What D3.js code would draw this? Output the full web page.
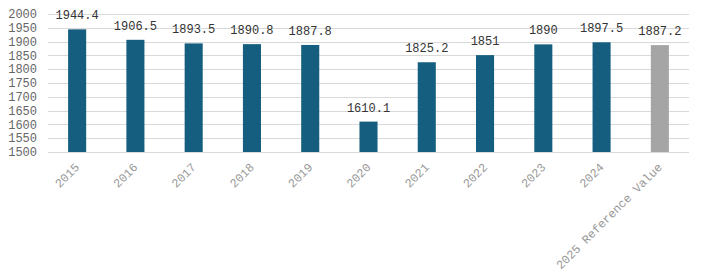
<!DOCTYPE html>
<html lang="en">
<meta charset="UTF-8">
<script src="https://d3js.org/d3.v7.min.js"></script>
<style>
  body { margin: 0; background: #fff; }
  text { font-family: "Courier New", Courier, "Nimbus Mono PS", "Nimbus Mono L", FreeMono, "Liberation Mono", monospace; }
</style>
<body>
<div id="chart"></div>
<script>
// data
var categories = ["2015", "2016", "2017", "2018", "2019", "2020", "2021", "2022", "2023", "2024", "2025 Reference Value"];
var values = [1944.4, 1906.5, 1893.5, 1890.8, 1887.8, 1610.1, 1825.2, 1851, 1890, 1897.5, 1887.2];
var yTicks = [1500, 1550, 1600, 1650, 1700, 1750, 1800, 1850, 1900, 1950, 2000];

var width = 704, height = 279;
var margin = {top: 14, right: 15, bottom: 127, left: 48};

var svg = d3.select("#chart").append("svg")
    .attr("width", width)
    .attr("height", height);

var x = d3.scaleBand()
    .domain(categories)
    .range([margin.left, width - margin.right])
    .paddingInner(0.69)
    .paddingOuter(0.345);

var y = d3.scaleLinear()
    .domain([1500, 2000])
    .range([height - margin.bottom, margin.top]);

// gridlines
svg.append("g")
  .selectAll("line")
  .data(yTicks)
  .join("line")
    .attr("x1", margin.left)
    .attr("x2", width - margin.right)
    .attr("y1", function(d) { return Math.round(y(d)) + 0.5; })
    .attr("y2", function(d) { return Math.round(y(d)) + 0.5; })
    .attr("stroke", "#d9d9d9")
    .attr("stroke-width", 1);

// y labels
svg.append("g")
  .selectAll("text")
  .data(yTicks)
  .join("text")
    .attr("x", margin.left - 11)
    .attr("y", function(d) { return y(d); })
    .attr("dy", "0.35em")
    .attr("text-anchor", "end")
    .attr("fill", "#666")
    .style("font-size", "12px")
    .text(function(d) { return d; });

// bars
svg.append("g")
  .selectAll("rect")
  .data(values)
  .join("rect")
    .attr("x", function(d, i) { return x(categories[i]); })
    .attr("y", function(d) { return y(d); })
    .attr("width", x.bandwidth())
    .attr("height", function(d) { return y(1500) - y(d); })
    .attr("fill", function(d, i) { return i === categories.length - 1 ? "#a5a5a5" : "#155e80"; });

// value labels
svg.append("g")
  .selectAll("text")
  .data(values)
  .join("text")
    .attr("x", function(d, i) { return x(categories[i]) + x.bandwidth() / 2; })
    .attr("y", function(d) { return y(d) - 10; })
    .attr("text-anchor", "middle")
    .attr("fill", "#333")
    .style("font-size", "12px")
    .text(function(d) { return d; });

// x labels, rotated
svg.append("g")
  .selectAll("text")
  .data(categories)
  .join("text")
    .attr("transform", function(d) {
      return "translate(" + (x(d) + x.bandwidth() / 2 + 3) + "," + (y(1500) + 16) + ") rotate(-45)";
    })
    .attr("text-anchor", "end")
    .attr("fill", "#999")
    .style("font-size", "12px")
    .text(function(d) { return d; });
</script>
</body>
</html>
